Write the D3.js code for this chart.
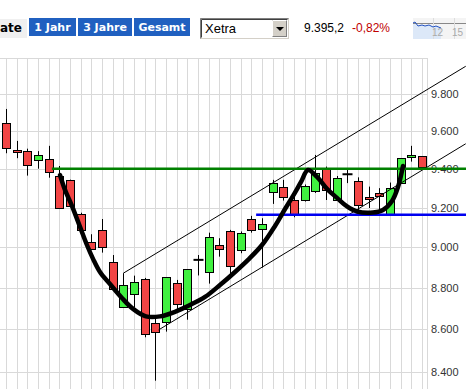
<!DOCTYPE html>
<html lang="de">
<head>
  <meta charset="UTF-8">
  <title>Kursverlauf Tasse mit Henkel</title>
  <script src="https://cdn.jsdelivr.net/npm/d3@7"></script>
  <style>
    body { margin: 0; background: #fff; }
    svg { display: block; }
    .grid line { stroke: #d9d9d9; stroke-width: 1px; shape-rendering: crispEdges; }
    .ylab { font: 11px "Liberation Sans", Arial, sans-serif; fill: #333; }
    .btn text { font: bold 11px "DejaVu Sans", Verdana, sans-serif; fill: #fff; }
  </style>
</head>
<body>
<svg width="466" height="389"></svg>
<script>
// candles, one per trading day (oldest first)
var opens  = [9642,9499,9494,9446,9453,9363,9342,9167,9029,9088,8926,8706,8769,8842,8629,8634,8823,8697,8938,8875,
              9011,9081,8986,9142,9091,9283,9306,9240,9240,9283,9399,9240,9373,9340,9257,9278,9169,9327,9462,9466];
var highs  = [9719,9548,9507,9494,9522,9416,9345,9175,9066,9143,8962,8872,8860,8849,8655,8852,8839,8892,8962,9074,
              9046,9088,9080,9159,9147,9344,9344,9262,9320,9474,9413,9364,9395,9357,9309,9301,9330,9457,9522,9466];
var lows   = [9483,9457,9366,9402,9355,9195,9204,9088,8994,8974,8794,8705,8705,8562,8358,8589,8693,8646,8861,8821,
              8954,8864,8971,9074,8900,9220,9237,9152,9232,9276,9240,9235,9327,9189,9199,9189,9168,9326,9439,9406];
var closes = [9510,9488,9420,9473,9383,9197,9206,9088,8996,9004,8795,8813,8828,8576,8586,8852,8722,8892,8938,9051,
              8991,8907,9072,9086,9117,9327,9254,9169,9314,9378,9292,9352,9373,9214,9249,9263,9304,9456,9474,9407];

var yTicks = [8400, 8600, 8800, 9000, 9200, 9400, 9600, 9800];

// drawn-in marks: resistance / support and the trend channel
var resistance = 9402;
var support = 9165;
var channelUpper = [[11.0, 8872], [43.1, 9952]];
var channelLower = [[14.3, 8597], [43.1, 9533]];

// hand drawn cup with handle (candle index, price)
var cupIdx   = [5.06,5.53,6.19,6.94,7.59,8.16,8.81,9.75,10.87,11.91,13.12,14.44,15.84,17.25,18.66,20.06,21.47,22.69,
                24.0,25.22,26.16,26.91,27.66,28.31,29.16,30.09,31.03,31.97,32.91,34.41,35.34,36.19,36.75,37.22];
var cupPrice = [9369,9292,9209,9103,9012,8943,8878,8819,8751,8698,8662,8662,8684,8717,8756,8814,8878,8938,
                9012,9108,9194,9261,9333,9395,9359,9297,9251,9207,9181,9176,9189,9235,9307,9416];

var buttons = ["1 Jahr", "3 Jahre", "Gesamt"];
var btnX = [29, 78, 134], btnW = [47, 54, 56];

var svg = d3.select("svg"),
    width = +svg.attr("width"),
    height = +svg.attr("height");

var plotRight = 427, plotTop = 58;

var x = d3.scaleLinear().domain([0, 39]).range([6, 422]);
var y = d3.scaleLog().domain([8400, 9800]).range([371.7, 94]);

function px(v) { return Math.round(v) + 0.5; }

// ---- header bar ----
svg.append("rect").attr("x", 0).attr("y", 19).attr("width", 27).attr("height", 19).attr("fill", "#f0f0f0");
svg.append("text").attr("x", 0).attr("y", 32)
    .style("font", "bold 12px 'DejaVu Sans', Verdana, sans-serif").text("ate");

var btn = svg.append("g").attr("class", "btn")
  .selectAll("g").data(buttons).enter().append("g");
btn.append("rect")
    .attr("x", (d, i) => btnX[i]).attr("y", 18)
    .attr("width", (d, i) => btnW[i]).attr("height", 18)
    .attr("fill", "#2060c0");
btn.append("text")
    .attr("x", (d, i) => btnX[i] + btnW[i] / 2).attr("y", 31)
    .attr("text-anchor", "middle").text(d => d);

// select box
var sel = svg.append("g");
sel.append("rect").attr("x", 200.5).attr("y", 18.5).attr("width", 88).attr("height", 20)
    .attr("fill", "#fff").attr("stroke", "#d4d0c8");
sel.append("path").attr("d", "M200.5,38.5V18.5H288.5").attr("fill", "none").attr("stroke", "#808080");
sel.append("path").attr("d", "M201.5,37.5V19.5H287.5").attr("fill", "none").attr("stroke", "#404040");
sel.append("rect").attr("x", 272.5).attr("y", 20.5).attr("width", 14).attr("height", 16)
    .attr("fill", "#d4d0c8").attr("stroke", "#808080");
sel.append("path").attr("d", "M272.5,36.5V20.5H286.5").attr("fill", "none").attr("stroke", "#fff");
sel.append("path").attr("d", "M276,27H284L280,31Z").attr("fill", "#000");
sel.append("text").attr("x", 205).attr("y", 33)
    .style("font", "13px 'Liberation Sans', Arial, sans-serif").text("Xetra");

svg.append("text").attr("x", 304).attr("y", 32)
    .style("font", "12px 'Liberation Sans', Arial, sans-serif").attr("fill", "#000").text("9.395,2");
svg.append("text").attr("x", 352).attr("y", 32)
    .style("font", "12px 'Liberation Sans', Arial, sans-serif").attr("fill", "#c00000").text("-0,82%");

// mini chart
var mini = svg.append("g");
mini.append("rect").attr("x", 413).attr("y", 18).attr("width", 53).attr("height", 21).attr("fill", "#f4f4f4");
mini.append("path").attr("d", "M413,23L415,22L418,26L422,25L425,26L429,25L433,27L436,26L441,28V39H413Z")
    .attr("fill", "#dce8f8");
mini.append("line").attr("x1", 413).attr("x2", 466).attr("y1", 23.5).attr("y2", 23.5).attr("stroke", "#888");
mini.selectAll(".mv").data([433.5, 454.5]).enter().append("line")
    .attr("x1", d => d).attr("x2", d => d).attr("y1", 18).attr("y2", 39).attr("stroke", "#ddd");
mini.append("path").attr("d", "M413,23L415,22L418,26L422,25L425,26L429,25L433,27L436,26L441,28")
    .attr("fill", "none").attr("stroke", "#2050c0");
mini.selectAll(".ml").data(["12", "15"]).enter().append("text")
    .attr("x", (d, i) => i ? 452 : 432).attr("y", 36)
    .style("font", "10px 'Liberation Sans', Arial, sans-serif").attr("fill", "#aaa").text(d => d);

// ---- grid ----
var grid = svg.append("g").attr("class", "grid");
grid.selectAll(".h").data(yTicks).enter().append("line")
    .attr("x1", 0).attr("x2", plotRight)
    .attr("y1", d => px(y(d))).attr("y2", d => px(y(d)));
grid.append("line").attr("x1", 0).attr("x2", plotRight).attr("y1", plotTop + 0.5).attr("y2", plotTop + 0.5);
grid.selectAll(".v").data(d3.range(40)).enter().append("line")
    .attr("x1", d => px(x(d))).attr("x2", d => px(x(d)))
    .attr("y1", plotTop).attr("y2", height);
grid.append("line").attr("x1", plotRight + 0.5).attr("x2", plotRight + 0.5).attr("y1", plotTop).attr("y2", height);

svg.append("g").selectAll("text").data(yTicks).enter().append("text")
    .attr("class", "ylab")
    .attr("x", 431).attr("y", d => y(d) + 4)
    .text(d => d3.format(",")(d).replace(",", "."));

// ---- candles ----
var candles = svg.append("g").selectAll("g").data(opens).enter().append("g");
candles.append("line")
    .attr("x1", (d, i) => px(x(i))).attr("x2", (d, i) => px(x(i)))
    .attr("y1", (d, i) => y(highs[i])).attr("y2", (d, i) => y(lows[i]))
    .attr("stroke", "#000").attr("stroke-width", 1);
candles.append("rect")
    .attr("x", (d, i) => Math.round(x(i)) - 4 + 0.5)
    .attr("width", 8)
    .attr("y", (d, i) => Math.round(y(Math.max(d, closes[i]))) + 0.5)
    .attr("height", (d, i) => Math.max(1, Math.round(y(Math.min(d, closes[i])) - y(Math.max(d, closes[i])))))
    .attr("fill", (d, i) => closes[i] > d ? "#40f040" : "#f24545")
    .attr("stroke", "#000").attr("stroke-width", 1)
    .style("display", (d, i) => closes[i] === d ? "none" : null);
// doji
candles.filter((d, i) => closes[i] === d).append("line")
    .attr("x1", (d, i) => Math.round(x(opens.indexOf(d))) - 4.5)
    .attr("x2", (d, i) => Math.round(x(opens.indexOf(d))) + 5.5)
    .attr("y1", d => y(d)).attr("y2", d => y(d))
    .attr("stroke", "#000").attr("stroke-width", 2);

// ---- drawn lines ----
var seg = d3.line().x(d => x(d[0])).y(d => y(d[1]));
[channelUpper, channelLower].forEach(function(c) {
  svg.append("path").attr("d", seg(c)).attr("fill", "none")
      .attr("stroke", "#000").attr("stroke-width", 1);
});

svg.append("line").attr("x1", x(4.3)).attr("x2", width)
    .attr("y1", y(resistance)).attr("y2", y(resistance))
    .attr("stroke", "#008000").attr("stroke-width", 2.5);
svg.append("line").attr("x1", x(23.45)).attr("x2", width)
    .attr("y1", y(support)).attr("y2", y(support))
    .attr("stroke", "#0000f0").attr("stroke-width", 2.5);

var cup = d3.line()
    .x((d, i) => x(d))
    .y((d, i) => y(cupPrice[i]))
    .curve(d3.curveCatmullRom);
svg.append("path").attr("d", cup(cupIdx))
    .attr("fill", "none").attr("stroke", "#000")
    .attr("stroke-width", 4.5).attr("stroke-linecap", "round").attr("stroke-linejoin", "round");
</script>
</body>
</html>
